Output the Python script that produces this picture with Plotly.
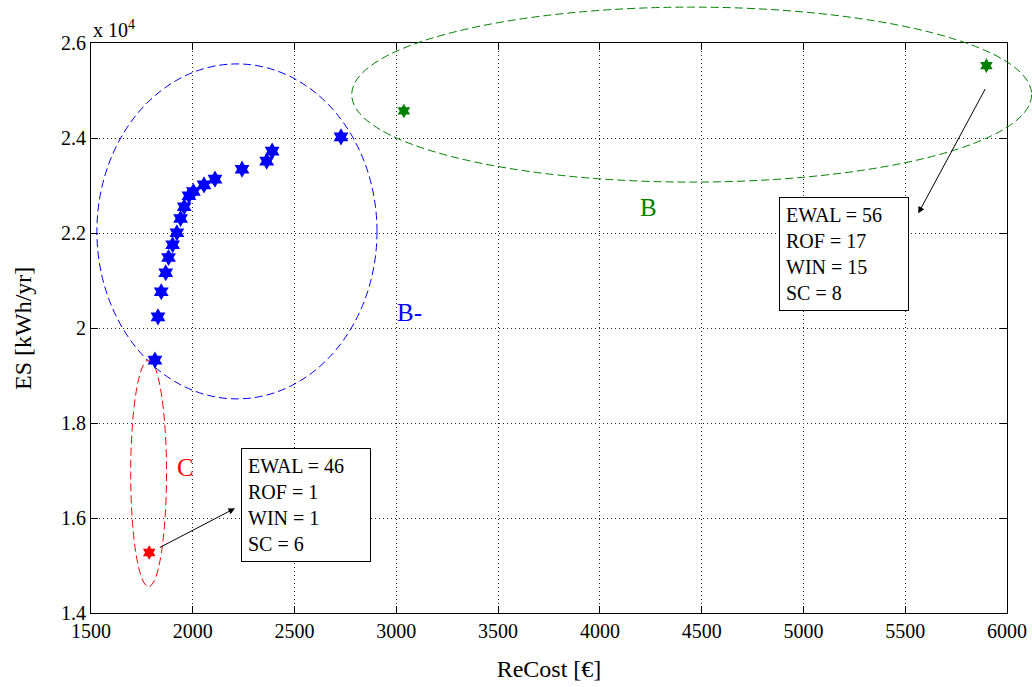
import plotly.graph_objects as go

# ---------------- data (ES in units of 10^4 kWh/yr) ----------------
blue_cost = [1814, 1829, 1845, 1867, 1881, 1901, 1922, 1940, 1958, 1981, 2003,
             2055, 2109, 2242, 2363, 2390, 2728]
blue_es = [1.933, 2.024, 2.077, 2.117, 2.149, 2.176, 2.201, 2.231, 2.256, 2.279,
           2.288, 2.302, 2.314, 2.335, 2.352, 2.373, 2.403]
green_cost = [3037, 5899]
green_es = [2.4575, 2.553]
red_cost = [1786]
red_es = [1.528]

# group ellipses: centre x, centre y, radius x, radius y
ell_blue = (2217, 2.204, 688, 0.3526)
ell_red = (1783, 1.6947, 88, 0.2386)
ell_green = (4451, 2.492, 1670, 0.1842)

group_labels = ["B", "B-", "C"]
group_label_pos = [(4241, 2.255), (3067, 2.033), (1962, 1.706)]
group_label_col = ["green", "blue", "red"]

box_texts = ["EWAL = 46<br>ROF = 1<br>WIN = 1<br>SC = 6",
             "EWAL = 56<br>ROF = 17<br>WIN = 15<br>SC = 8"]
box_pos = [(2237, 1.747), (4881, 2.276)]
arrows = [((1831, 1.537), (2207, 1.621)), ((5897, 2.507), (5564, 2.242))]

x_range = [1500, 6000]
y_range = [1.4, 2.6]
x_ticks = [1500, 2000, 2500, 3000, 3500, 4000, 4500, 5000, 5500, 6000]
y_ticks = [1.4, 1.6, 1.8, 2.0, 2.2, 2.4, 2.6]

W, H = 1032, 687
xdom = [91 / W, 1007 / W]
ydom = [1 - 613.3 / H, 1 - 43.3 / H]

SERIF = "Liberation Serif, Times New Roman, serif"

fig = go.Figure()

fig.add_trace(go.Scatter(x=blue_cost, y=blue_es, mode="markers",
                         marker=dict(symbol="hexagram", size=13, color="blue",
                                     line=dict(width=0)),
                         xaxis="x", yaxis="y"))
fig.add_trace(go.Scatter(x=green_cost, y=green_es, mode="markers",
                         marker=dict(symbol="hexagram", size=11, color="green",
                                     line=dict(width=0)),
                         xaxis="x", yaxis="y"))
fig.add_trace(go.Scatter(x=red_cost, y=red_es, mode="markers",
                         marker=dict(symbol="hexagram", size=11, color="red",
                                     line=dict(width=0)),
                         xaxis="x", yaxis="y"))
# invisible trace to instantiate the full-paper overlay subplot
fig.add_trace(go.Scatter(x=[ell_green[0]], y=[ell_green[1]], mode="markers",
                         marker=dict(opacity=0), xaxis="x2", yaxis="y2",
                         hoverinfo="skip"))

# overlay axes spanning the full figure with identical scale
kx = (xdom[1] - xdom[0]) * W / (x_range[1] - x_range[0])
ky = (ydom[1] - ydom[0]) * H / (y_range[1] - y_range[0])
x2_range = [x_range[0] - xdom[0] * W / kx, x_range[1] + (1 - xdom[1]) * W / kx]
y2_range = [y_range[0] - ydom[0] * H / ky, y_range[1] + (1 - ydom[1]) * H / ky]

shapes = []
for ell, col, xr, yr in [(ell_blue, "blue", "x", "y"),
                         (ell_red, "red", "x", "y"),
                         (ell_green, "green", "x2", "y2")]:
    cx, cy, rx, ry = ell
    shapes.append(dict(type="circle", xref=xr, yref=yr,
                       x0=cx - rx, x1=cx + rx, y0=cy - ry, y1=cy + ry,
                       line=dict(color=col, width=1, dash="8px,4px"),
                       layer="between" if xr == "x" else "above"))

annotations = []
for lab, (lx, ly), col in zip(group_labels, group_label_pos, group_label_col):
    annotations.append(dict(x=lx, y=ly, xref="x", yref="y", text=lab,
                            showarrow=False, font=dict(family=SERIF, size=25, color=col)))
for txt, (bx, by) in zip(box_texts, box_pos):
    annotations.append(dict(x=bx, y=by, xref="x", yref="y", text=txt,
                            showarrow=False, xanchor="left", yanchor="top",
                            align="left", width=116, bordercolor="black",
                            borderwidth=1, borderpad=6, bgcolor="white",
                            font=dict(family=SERIF, size=20, color="black")))
for (tail, tip) in arrows:
    annotations.append(dict(x=tip[0], y=tip[1], ax=tail[0], ay=tail[1],
                            xref="x", yref="y", axref="x", ayref="y",
                            text="", showarrow=True, arrowhead=2, arrowsize=1.3,
                            arrowwidth=1, arrowcolor="black", standoff=0))
annotations.append(dict(x=0, y=1, xref="x domain", yref="y domain",
                        text="x 10<sup>4</sup>", showarrow=False,
                        xanchor="left", yanchor="bottom",
                        font=dict(family=SERIF, size=20, color="black")))

axis_common = dict(showgrid=True, gridcolor="#222", griddash="1px,3px", gridwidth=1,
                   showline=True, linecolor="black", linewidth=1, mirror="ticks",
                   ticks="inside", ticklen=7, tickcolor="black", zeroline=False,
                   tickfont=dict(family=SERIF, size=20, color="black"),
                   automargin=False)

fig.update_layout(
    template="none",
    width=W, height=H,
    margin=dict(l=0, r=0, t=0, b=0),
    paper_bgcolor="white", plot_bgcolor="rgba(0,0,0,0)",
    showlegend=False,
    xaxis=dict(domain=xdom, range=x_range, tickvals=x_ticks, anchor="y",
               title=dict(text="ReCost [€]", standoff=18,
                          font=dict(family=SERIF, size=24, color="black")),
               **axis_common),
    yaxis=dict(domain=ydom, range=y_range, tickvals=y_ticks, anchor="x",
               ticktext=[f"{v:g}" for v in y_ticks],
               title=dict(text="ES [kWh/yr]", standoff=22,
                          font=dict(family=SERIF, size=24, color="black")),
               **axis_common),
    xaxis2=dict(domain=[0, 1], range=x2_range, visible=False, anchor="y2",
                showgrid=False, zeroline=False),
    yaxis2=dict(domain=[0, 1], range=y2_range, visible=False, anchor="x2",
                showgrid=False, zeroline=False),
    shapes=shapes,
    annotations=annotations,
)

fig.write_html("out.html", config={"displayModeBar": False},
               post_script="document.body.style.margin='0px';document.body.style.overflow='hidden';")
